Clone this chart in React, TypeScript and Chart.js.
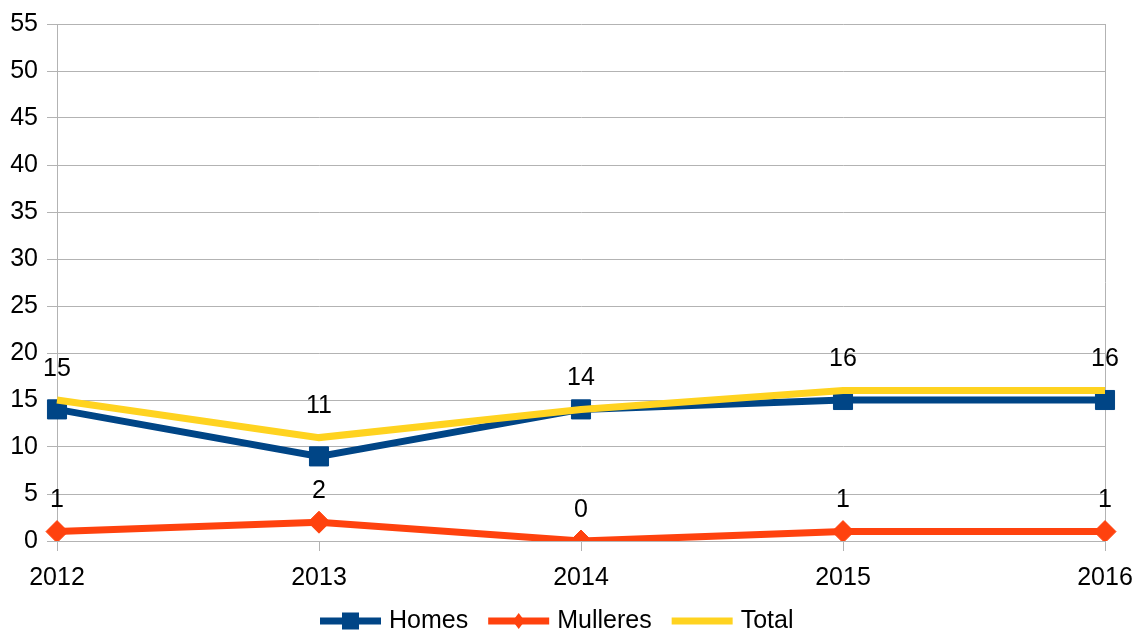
import React, { useEffect, useRef } from "react";
import { Chart, registerables } from "chart.js";

Chart.register(...registerables);

const categories = ["2012", "2013", "2014", "2015", "2016"];
const homes = [14, 9, 14, 15, 15];
const mulleres = [1, 2, 0, 1, 1];
const total = [15, 11, 14, 16, 16];
const seriesNames = ["Homes", "Mulleres", "Total"];
const seriesColors = ["#004586", "#ff420e", "#ffd320"];
const yMin = 0;
const yMax = 55;
const yStep = 5;

const FONT = "'Liberation Sans', Arial, sans-serif";
const FS = 25;
const GRID = "#b3b3b3";

const dataLabelPlugin = {
  id: "dataLabels",
  afterDatasetsDraw(chart: any) {
    const ctx = chart.ctx;
    ctx.save();
    ctx.font = `${FS}px ${FONT}`;
    ctx.fillStyle = "#000";
    ctx.textAlign = "center";
    ctx.textBaseline = "middle";
    chart.data.datasets.forEach((ds: any, i: number) => {
      if (!ds.showLabels) return;
      const meta = chart.getDatasetMeta(i);
      meta.data.forEach((pt: any, j: number) => {
        ctx.fillText(String(ds.data[j]), pt.x, pt.y - 31);
      });
    });
    ctx.restore();
  },
};

const legendPlugin = {
  id: "customLegend",
  afterDraw(chart: any) {
    const ctx = chart.ctx;
    ctx.save();
    ctx.font = `${FS}px ${FONT}`;
    const lineW = 61;
    const gapText = 8;
    const gapItem = 20;
    const y = 621;
    let x = 320;
    chart.data.datasets.forEach((ds: any) => {
      ctx.strokeStyle = ds.borderColor;
      ctx.lineWidth = 7;
      ctx.beginPath();
      ctx.moveTo(x, y);
      ctx.lineTo(x + lineW, y);
      ctx.stroke();
      const cx = x + lineW / 2;
      ctx.fillStyle = ds.borderColor;
      if (ds.pointStyle === "rect") {
        ctx.fillRect(cx - 8.5, y - 8.5, 17, 17);
      } else if (ds.pointStyle === "rectRot") {
        ctx.beginPath();
        ctx.moveTo(cx, y - 8);
        ctx.lineTo(cx + 6, y);
        ctx.lineTo(cx, y + 8);
        ctx.lineTo(cx - 6, y);
        ctx.closePath();
        ctx.fill();
      }
      ctx.fillStyle = "#000";
      ctx.textAlign = "left";
      ctx.textBaseline = "middle";
      ctx.fillText(ds.label, x + lineW + gapText, y);
      x += lineW + gapText + ctx.measureText(ds.label).width + gapItem;
    });
    ctx.restore();
  },
};

export default function App() {
  const canvasRef = useRef<HTMLCanvasElement | null>(null);

  useEffect(() => {
    const canvas = canvasRef.current;
    if (!canvas) return;
    const chart = new Chart(canvas, {
      type: "line",
      data: {
        labels: categories,
        datasets: [
          {
            label: seriesNames[0],
            data: homes,
            borderColor: seriesColors[0],
            backgroundColor: seriesColors[0],
            borderWidth: 7,
            pointStyle: "rect",
            pointRadius: 13.5,
            pointBorderWidth: 1,
            pointHoverRadius: 13.5,
            order: 2,
            showLabels: false,
          } as any,
          {
            label: seriesNames[1],
            data: mulleres,
            borderColor: seriesColors[1],
            backgroundColor: seriesColors[1],
            borderWidth: 7,
            pointStyle: "rectRot",
            pointRadius: 11,
            pointBorderWidth: 1,
            pointHoverRadius: 11,
            order: 1,
            showLabels: true,
          } as any,
          {
            label: seriesNames[2],
            data: total,
            borderColor: seriesColors[2],
            backgroundColor: seriesColors[2],
            borderWidth: 7,
            pointRadius: 0,
            pointHoverRadius: 0,
            order: 0,
            showLabels: true,
          } as any,
        ],
      },
      options: {
        responsive: false,
        animation: false,
        layout: { padding: { top: 9, right: 2, left: 0, bottom: 0 } },
        plugins: {
          legend: { display: false },
          tooltip: { enabled: false },
        },
        scales: {
          x: {
            type: "category",
            offset: false,
            grid: {
              color: (c: any) => (c.index === categories.length - 1 ? GRID : "rgba(0,0,0,0)"),
              tickColor: GRID,
              tickLength: 10,
              lineWidth: 1,
            },
            border: { color: GRID },
            ticks: { color: "#000", font: { family: FONT, size: FS }, padding: 12, maxRotation: 0 },
            afterFit: (scale: any) => {
              scale.height = 91;
              scale.paddingRight = 30;
            },
          },
          y: {
            min: yMin,
            max: yMax,
            grid: { color: GRID, tickColor: GRID, tickLength: 10, lineWidth: 1 },
            border: { color: GRID },
            ticks: { stepSize: yStep, color: "#000", font: { family: FONT, size: FS }, padding: 9 },
            afterFit: (scale: any) => {
              scale.width = 57;
            },
          },
        },
      },
      plugins: [dataLabelPlugin, legendPlugin],
    });
    return () => chart.destroy();
  }, []);

  return (
    <div style={{ position: "fixed", left: 0, top: 0, width: 1135, height: 632, background: "#fff" }}>
      <canvas ref={canvasRef} width={1135} height={632} style={{ display: "block" }} />
    </div>
  );
}
